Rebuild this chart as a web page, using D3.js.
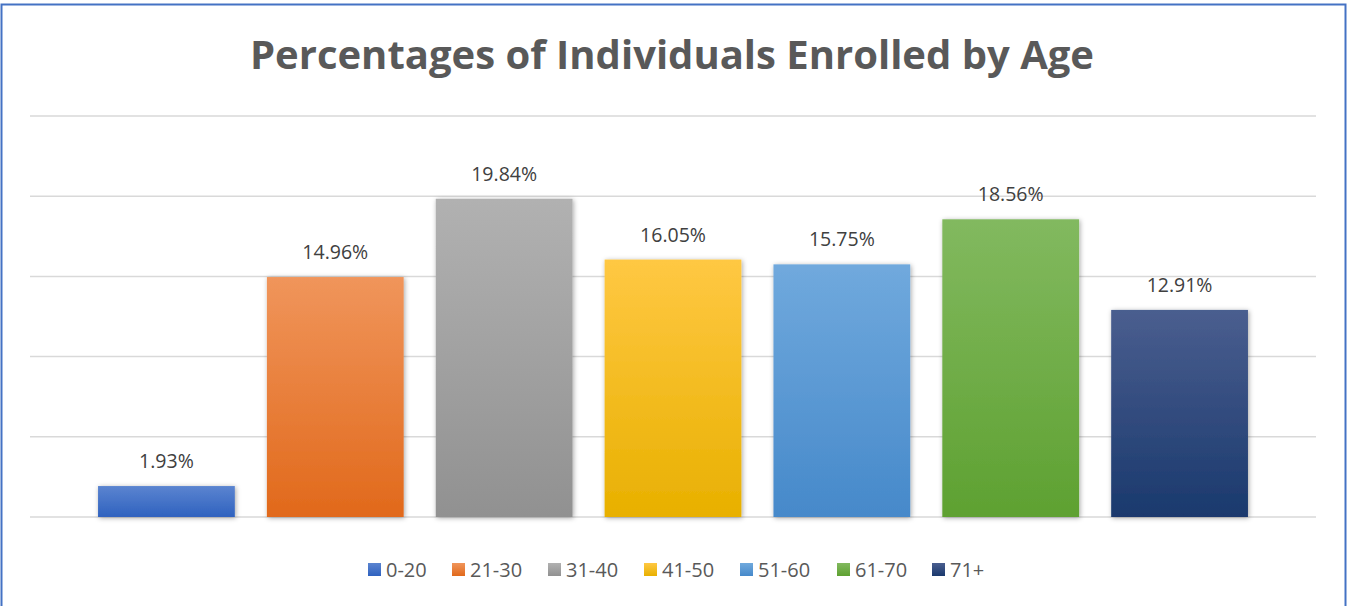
<!DOCTYPE html>
<html>
<head>
<meta charset="utf-8">
<script src="https://cdn.jsdelivr.net/npm/d3@7"></script>
<style>
  body { margin: 0; background: #fff; }
  svg { display: block; }
</style>
</head>
<body>
<svg id="chart" width="1356" height="606"></svg>
<script>
var categories = ["0-20", "21-30", "31-40", "41-50", "51-60", "61-70", "71+"];
var values = [1.93, 14.96, 19.84, 16.05, 15.75, 18.56, 12.91];
var gridTicks = [0, 5, 10, 15, 20, 25];
// top / bottom of each bar's gradient
var topColors = ["#5b84d0", "#f0955b", "#b1b1b1", "#ffc843", "#70a9dd", "#82b95f", "#4a5e8f"];
var bottomColors = ["#2f62bf", "#e1691b", "#919191", "#e8b000", "#4689ca", "#5ea131", "#1a396d"];

var svg = d3.select("#chart");
var font = "'Open Sans', 'Liberation Sans', sans-serif";

// chart border
svg.append("rect")
    .attr("x", 1.5).attr("y", 4.5)
    .attr("width", 1344).attr("height", 610)
    .attr("fill", "none")
    .attr("stroke", "#4472c4")
    .attr("stroke-width", 2);

var defs = svg.append("defs");
var shadow = defs.append("filter").attr("id", "shadow")
    .attr("x", "-20%").attr("y", "-20%").attr("width", "140%").attr("height", "140%");
shadow.append("feDropShadow")
    .attr("dx", 1).attr("dy", 1).attr("stdDeviation", 2.5)
    .attr("flood-color", "#000").attr("flood-opacity", 0.35);

categories.forEach(function (c, i) {
  var g = defs.append("linearGradient").attr("id", "grad" + i)
      .attr("x1", 0).attr("y1", 0).attr("x2", 0).attr("y2", 1);
  g.append("stop").attr("offset", "0%").attr("stop-color", topColors[i]);
  g.append("stop").attr("offset", "100%").attr("stop-color", bottomColors[i]);
});

var y = d3.scaleLinear().domain([0, 25]).range([517, 116]);
var x = d3.scaleBand().domain(categories).range([82, 1264]).paddingInner(0.19).paddingOuter(0.095);

// gridlines
svg.selectAll("line.grid").data(gridTicks).enter().append("line")
    .attr("class", "grid")
    .attr("x1", 30).attr("x2", 1316)
    .attr("y1", function (d) { return y(d); })
    .attr("y2", function (d) { return y(d); })
    .attr("stroke", "#d9d9d9")
    .attr("stroke-width", 1.5);

// title
svg.append("text")
    .attr("x", 672).attr("y", 69)
    .attr("text-anchor", "middle")
    .attr("font-family", font)
    .attr("font-weight", "bold")
    .attr("font-size", "40px")
    .attr("fill", "#595959")
    .text("Percentages of Individuals Enrolled by Age");

// bars
svg.selectAll("rect.bar").data(values).enter().append("rect")
    .attr("class", "bar")
    .attr("x", function (d, i) { return x(categories[i]); })
    .attr("y", function (d) { return y(d); })
    .attr("width", x.bandwidth())
    .attr("height", function (d) { return y(0) - y(d); })
    .attr("fill", function (d, i) { return "url(#grad" + i + ")"; })
    .attr("filter", "url(#shadow)");

// data labels
svg.selectAll("text.label").data(values).enter().append("text")
    .attr("class", "label")
    .attr("x", function (d, i) { return x(categories[i]) + x.bandwidth() / 2; })
    .attr("y", function (d) { return y(d) - 18; })
    .attr("text-anchor", "middle")
    .attr("font-family", font)
    .attr("font-size", "19.5px")
    .attr("fill", "#404040")
    .text(function (d) { return d.toFixed(2) + "%"; });

// legend
var legendX = [368, 452, 548, 644, 740, 837, 932];
var legend = svg.selectAll("g.legend").data(categories).enter().append("g")
    .attr("class", "legend")
    .attr("transform", function (d, i) { return "translate(" + legendX[i] + ",563)"; });
legend.append("rect")
    .attr("width", 13).attr("height", 13)
    .attr("fill", function (d, i) { return "url(#grad" + i + ")"; });
legend.append("text")
    .attr("x", 18).attr("y", 14)
    .attr("font-family", font)
    .attr("font-size", "20px")
    .attr("fill", "#595959")
    .text(function (d) { return d; });
</script>
</body>
</html>
